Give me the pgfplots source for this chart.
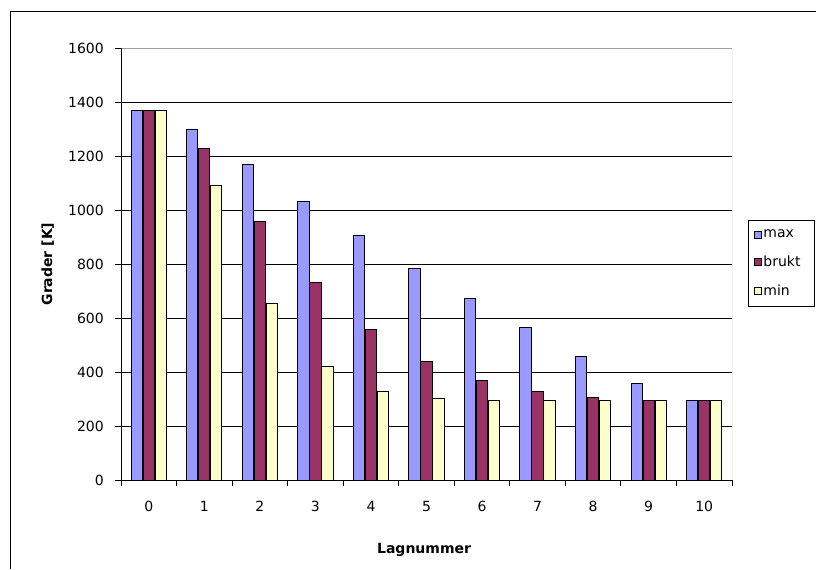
\documentclass[border=0pt]{standalone}
\usepackage{fontspec}
\setmainfont{DejaVu Sans}
\usepackage{pgfplots}
\pgfplotsset{compat=1.18}

\definecolor{cmax}{HTML}{9999FF}
\definecolor{cbrukt}{HTML}{993366}
\definecolor{cmin}{HTML}{FFFFCC}
\definecolor{frameGray}{HTML}{A0A0A0}

\newcommand{\chartfont}{\fontsize{10.5}{12}\selectfont}

\begin{document}
\begin{tikzpicture}
\useasboundingbox (0pt,0pt) rectangle (612pt,426.75pt);
% outer chart frame
\draw[line width=0.9pt] (8pt,0pt) -- (8pt,418pt) -- (612pt,418pt);

\begin{axis}[
  at={(90.75pt,66.75pt)}, anchor=south west,
  scale only axis, width=458.25pt, height=324pt,
  xmin=-0.5, xmax=10.5, ymin=0, ymax=1600,
  ytick={0,200,...,1600},
  xtick={0,...,10},
  minor xtick={-0.5,0.5,...,10.5},
  xtick pos=bottom, ytick pos=left,
  tick align=outside,
  major tick length=4.5pt, minor tick length=4.5pt,
  tick style={black, line width=0.75pt},
  major x tick style={draw=none},
  ymajorgrids, grid style={black, line width=0.75pt},
  axis line style={draw=none},
  ybar=0.6pt, bar width=8.4pt,
  /pgf/number format/assume math mode=true,
  /pgf/number format/set thousands separator={},
  ticklabel style={font=\chartfont, text=black},
  yticklabel style={anchor=east, inner sep=0pt, xshift=-8.25pt},
  xticklabel style={anchor=north, inner sep=0pt, yshift=-11.25pt},
  xlabel={\bfseries Lagnummer},
  ylabel={\bfseries Grader [K]},
  label style={font=\chartfont},
  xlabel style={at={(axis description cs:0.496,0)}, anchor=base, yshift=-54.75pt},
  ylabel style={at={(axis description cs:-0.12,0.5)}, anchor=center},
  legend cell align=left,
  legend style={at={(axis description cs:1.026,0.602)}, anchor=north west,
    draw=black, line width=0.75pt, font=\chartfont,
    inner xsep=4pt, inner ysep=5pt, row sep=8.25pt,
    nodes={text width=33pt, inner xsep=1.5pt}},
]
\addplot[fill=cmax, draw=black, line width=0.75pt,
  legend image code/.code={\draw[fill=cmax, draw=black, line width=0.6pt] (0pt,-2.6pt) rectangle (5.2pt,2.6pt);}]
  coordinates {(0,1370) (1,1300) (2,1167) (3,1033) (4,906) (5,785) (6,674) (7,563) (8,456) (9,356) (10,293)};
\addplot[fill=cbrukt, draw=black, line width=0.75pt,
  legend image code/.code={\draw[fill=cbrukt, draw=black, line width=0.6pt] (0pt,-2.6pt) rectangle (5.2pt,2.6pt);}]
  coordinates {(0,1370) (1,1226) (2,959) (3,732) (4,557) (5,440) (6,370) (7,328) (8,306) (9,296) (10,293)};
\addplot[fill=cmin, draw=black, line width=0.75pt,
  legend image code/.code={\draw[fill=cmin, draw=black, line width=0.6pt] (0pt,-2.6pt) rectangle (5.2pt,2.6pt);}]
  coordinates {(0,1370) (1,1089) (2,652) (3,419) (4,328) (5,302) (6,293) (7,293) (8,293) (9,293) (10,293)};
\legend{max, brukt, min}
% plot-area border: grey top and right, black axes left and bottom
\draw[frameGray, line width=0.75pt] (rel axis cs:0,1) -- (rel axis cs:1,1) -- (rel axis cs:1,0);
\draw[black, line width=0.75pt] (rel axis cs:0,1) -- (rel axis cs:0,0) -- (rel axis cs:1,0);
\end{axis}
\end{tikzpicture}
\end{document}
